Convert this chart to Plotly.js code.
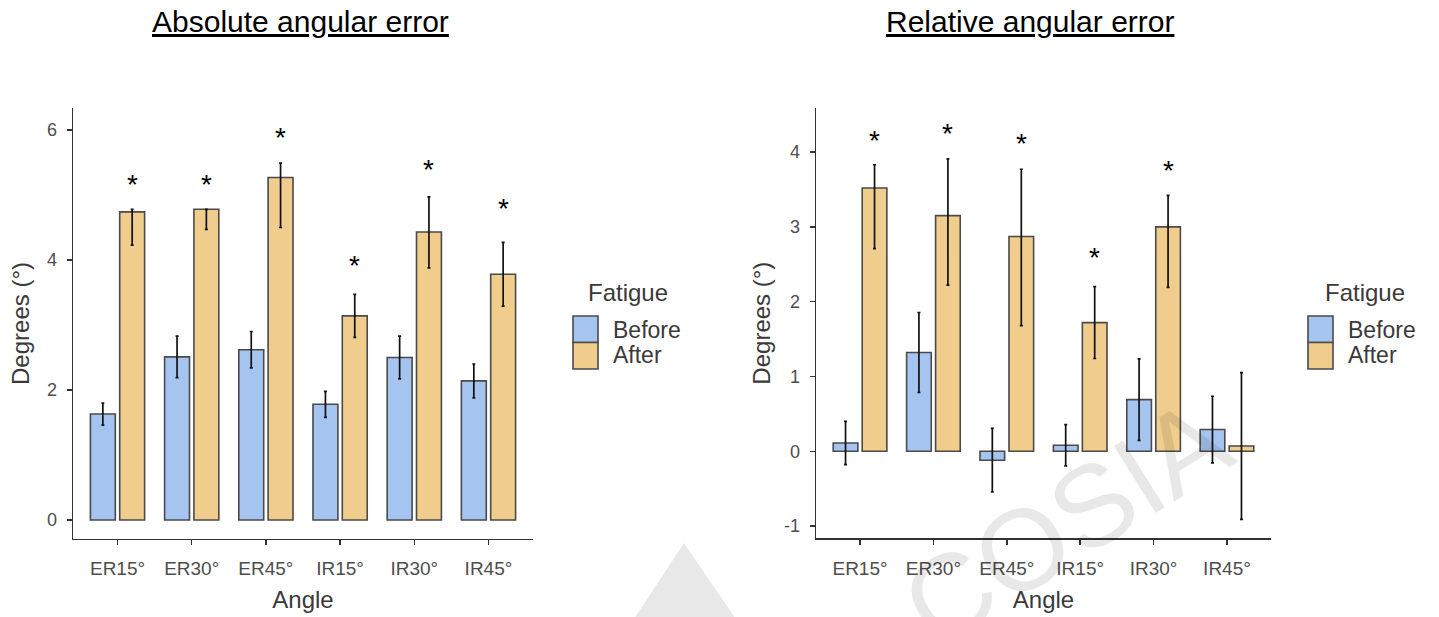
<!DOCTYPE html>
<html>
<head>
<meta charset="utf-8">
<script src="https://cdn.plot.ly/plotly-3.0.1.min.js"></script>
<style>
  html, body { margin: 0; padding: 0; background: #ffffff; }
  #chart { width: 1439px; height: 617px; }
</style>
</head>
<body>
<div id="chart"></div>
<script>
// Joint position sense before and after fatigue
const angles = ['ER15°', 'ER30°', 'ER45°', 'IR15°', 'IR30°', 'IR45°'];

// Absolute angular error (degrees)
const absBefore       = [1.63, 2.51, 2.62, 1.78, 2.50, 2.14];
const absBeforeErr    = [0.17, 0.32, 0.28, 0.20, 0.33, 0.26];
const absAfter        = [4.74, 4.78, 5.27, 3.14, 4.43, 3.78];
const absAfterErrUp   = [0.04, 0.00, 0.22, 0.33, 0.54, 0.49];
const absAfterErrDown = [0.51, 0.31, 0.77, 0.33, 0.55, 0.49];
const absStarY        = [5.25, 5.25, 5.97, 4.00, 5.49, 4.88];

// Relative angular error (degrees)
const relBefore       = [0.11, 1.32, -0.12, 0.08, 0.69, 0.29];
const relBeforeErr    = [0.29, 0.535, 0.425, 0.275, 0.545, 0.445];
const relAfter        = [3.52, 3.15, 2.87, 1.72, 3.00, 0.07];
const relAfterErrUp   = [0.31, 0.76, 0.90, 0.48, 0.42, 0.98];
const relAfterErrDown = [0.81, 0.93, 1.19, 0.48, 0.81, 0.98];
const relStarY        = [4.24, 4.33, 4.20, 2.67, 3.84, null];

const groups = ['Before', 'After'];

// ---- page geometry helpers (pixels -> paper fractions) ----
const W = 1439, H = 617;
const px = x => x / W;
const py = y => 1 - y / H;

const blue = '#a6c4f0', orange = '#f0cd8c', edge = '#4a4a4a';
const sans = 'Liberation Sans, Arial, sans-serif';
const bargap = 0.21, bargroupgap = 0.15;
const xRange = [-0.6, 5.6];

const leftDom  = { x: [px(73), px(533)],  y: [py(539), py(108)] };
const rightDom = { x: [px(816), px(1271)], y: [py(538.3), py(108)] };

function barTrace(name, y, up, down, color, xa, ya) {
  return {
    type: 'bar', name: name, x: angles, y: y, xaxis: xa, yaxis: ya,
    showlegend: false, hoverinfo: 'skip',
    marker: { color: color, line: { color: edge, width: 1.6 } },
    error_y: { type: 'data', symmetric: false, array: up, arrayminus: down,
               color: '#111111', thickness: 1.7, width: 1.5 }
  };
}

const traces = [
  barTrace('Before', absBefore, absBeforeErr, absBeforeErr, blue, 'x', 'y'),
  barTrace('After', absAfter, absAfterErrUp, absAfterErrDown, orange, 'x', 'y'),
  barTrace('Before', relBefore, relBeforeErr, relBeforeErr, blue, 'x2', 'y2'),
  barTrace('After', relAfter, relAfterErrUp, relAfterErrDown, orange, 'x2', 'y2')
];

const xTickFont = { family: sans, size: 19, color: '#4d4d4d' };
const yTickFont = { family: sans, size: 18, color: '#4d4d4d' };
const titleFont = { family: sans, size: 24, color: '#3a3a3a' };

function xAxis(dom, anchor) {
  return {
    domain: dom, anchor: anchor, type: 'category', range: xRange, fixedrange: true,
    showline: true, linecolor: '#333333', linewidth: 1.4,
    ticks: 'outside', ticklen: 5, tickwidth: 1.4, tickcolor: '#333333',
    tickfont: xTickFont, ticklabelstandoff: 7,
    showgrid: false, zeroline: false,
    title: { text: 'Angle', font: titleFont, standoff: 13 }
  };
}
function yAxis(dom, anchor, range, vals, standoff) {
  return {
    domain: dom, anchor: anchor, range: range, fixedrange: true,
    tickvals: vals, ticktext: vals.map(String),
    showline: true, linecolor: '#333333', linewidth: 1.4,
    ticks: 'outside', ticklen: 5, tickwidth: 1.4, tickcolor: '#333333',
    tickfont: yTickFont, ticklabelstandoff: 6,
    showgrid: false, zeroline: false,
    title: { text: 'Degrees (°)', font: titleFont, standoff: standoff }
  };
}

// offset (px) from a category centre to the centre of the "After" bar
function afterShift(dom) {
  const catPx = (dom[1] - dom[0]) * W / (xRange[1] - xRange[0]);
  return catPx * (1 - bargap) / 4;
}

function stars(vals, xa, ya, dom) {
  const out = [];
  vals.forEach((v, i) => {
    if (v === null) return;
    out.push({
      xref: xa, yref: ya, x: angles[i], y: v, text: '*', showarrow: false,
      xshift: afterShift(dom), yshift: -6, yanchor: 'middle',
      font: { family: sans, size: 28, color: '#000000' }
    });
  });
  return out;
}

// legend drawn as swatches + labels
function legend(boxX, titleX) {
  const shapes = groups.map((g, i) => ({
    type: 'rect', xref: 'paper', yref: 'paper',
    x0: px(boxX), x1: px(boxX + 25),
    y0: py(316 + 26.5 * (i + 1)), y1: py(316 + 26.5 * i),
    fillcolor: i === 0 ? blue : orange, line: { color: edge, width: 1.6 }
  }));
  const notes = [{
    xref: 'paper', yref: 'paper', x: px(titleX), y: py(292), text: 'Fatigue',
    showarrow: false, xanchor: 'center', yanchor: 'middle',
    font: { family: sans, size: 24, color: '#3a3a3a' }
  }].concat(groups.map((g, i) => ({
    xref: 'paper', yref: 'paper', x: px(boxX + 38), y: py(330 + 25 * i), text: g,
    showarrow: false, xanchor: 'left', yanchor: 'middle',
    font: { family: sans, size: 23, color: '#3a3a3a' }
  })));
  return { shapes, notes };
}

const legL = legend(573, 628);
const legR = legend(1308, 1365);

const panelTitles = [
  { text: 'Absolute angular error', x: 300 },
  { text: 'Relative angular error', x: 1030 }
].map(t => ({
  xref: 'paper', yref: 'paper', x: px(t.x), y: py(22), text: t.text,
  showarrow: false, xanchor: 'center', yanchor: 'middle',
  font: { family: sans, size: 30, color: '#000000', lineposition: 'under' }
}));

// faint diagonal watermark over the page
const watermark = [{
  xref: 'paper', yref: 'paper', x: px(1066), y: py(522), text: 'COSIA',
  showarrow: false, textangle: -32, xanchor: 'center', yanchor: 'middle',
  font: { family: sans, size: 115, color: 'rgba(0,0,0,0.09)' }
}];
const wmShape = {
  type: 'path', xref: 'paper', yref: 'paper', layer: 'above',
  path: `M ${px(684)} ${py(543)} L ${px(740)} ${py(625)} L ${px(630)} ${py(625)} Z`,
  fillcolor: 'rgba(0,0,0,0.09)', line: { width: 0 }
};

const layout = {
  width: W, height: H,
  margin: { l: 0, r: 0, t: 0, b: 0 },
  paper_bgcolor: '#ffffff', plot_bgcolor: '#ffffff',
  barmode: 'group', bargap: bargap, bargroupgap: bargroupgap,
  showlegend: false,
  xaxis: xAxis(leftDom.x, 'y'),
  yaxis: yAxis(leftDom.y, 'x', [-0.292, 6.338], [0, 2, 4, 6], 10),
  xaxis2: xAxis(rightDom.x, 'y2'),
  yaxis2: yAxis(rightDom.y, 'x2', [-1.164, 4.589], [-1, 0, 1, 2, 3, 4], 6),
  shapes: legL.shapes.concat(legR.shapes, [wmShape]),
  annotations: panelTitles
    .concat(stars(absStarY, 'x', 'y', leftDom.x))
    .concat(stars(relStarY, 'x2', 'y2', rightDom.x))
    .concat(legL.notes, legR.notes, watermark)
};

Plotly.newPlot('chart', traces, layout, { staticPlot: true, displayModeBar: false });
</script>
</body>
</html>
